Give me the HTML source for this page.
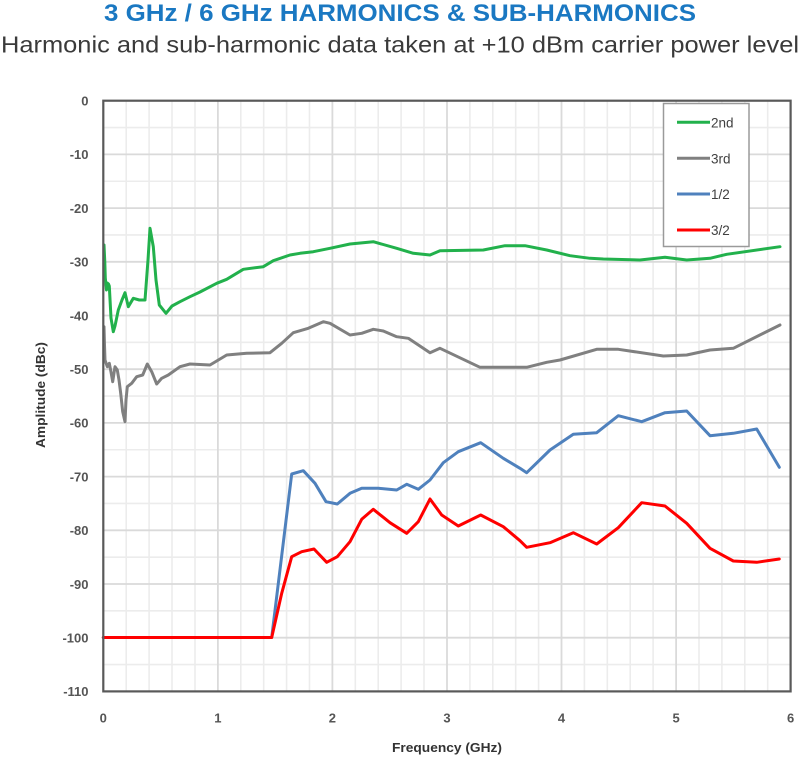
<!DOCTYPE html>
<html>
<head>
<meta charset="utf-8">
<style>
  html, body { margin: 0; padding: 0; background: #ffffff; }
  body { width: 800px; height: 765px; overflow: hidden; }
  svg { display: block; }
  text { font-family: "Liberation Sans", "DejaVu Sans", sans-serif; }
</style>
</head>
<body>
<svg width="800" height="765" viewBox="0 0 800 765" xmlns="http://www.w3.org/2000/svg">
  <rect x="0" y="0" width="800" height="765" fill="#ffffff"/>

  <!-- Titles -->
  <text x="104" y="21" font-size="24.5" font-weight="bold" fill="#1a78c2" textLength="592" lengthAdjust="spacingAndGlyphs">3 GHz / 6 GHz HARMONICS &amp; SUB-HARMONICS</text>
  <text x="1" y="52.5" font-size="23" fill="#3a3a3a" textLength="798" lengthAdjust="spacingAndGlyphs">Harmonic and sub-harmonic data taken at +10 dBm carrier power level</text>

  <!-- Minor grid -->
  <g stroke="#ececec" stroke-width="1.6" fill="none">
    <line x1="126.2" y1="100.7" x2="126.2" y2="691.4"/>
    <line x1="149.1" y1="100.7" x2="149.1" y2="691.4"/>
    <line x1="172.0" y1="100.7" x2="172.0" y2="691.4"/>
    <line x1="195.0" y1="100.7" x2="195.0" y2="691.4"/>
    <line x1="240.8" y1="100.7" x2="240.8" y2="691.4"/>
    <line x1="263.7" y1="100.7" x2="263.7" y2="691.4"/>
    <line x1="286.6" y1="100.7" x2="286.6" y2="691.4"/>
    <line x1="309.5" y1="100.7" x2="309.5" y2="691.4"/>
    <line x1="355.3" y1="100.7" x2="355.3" y2="691.4"/>
    <line x1="378.2" y1="100.7" x2="378.2" y2="691.4"/>
    <line x1="401.1" y1="100.7" x2="401.1" y2="691.4"/>
    <line x1="424.0" y1="100.7" x2="424.0" y2="691.4"/>
    <line x1="469.9" y1="100.7" x2="469.9" y2="691.4"/>
    <line x1="492.8" y1="100.7" x2="492.8" y2="691.4"/>
    <line x1="515.7" y1="100.7" x2="515.7" y2="691.4"/>
    <line x1="538.6" y1="100.7" x2="538.6" y2="691.4"/>
    <line x1="584.4" y1="100.7" x2="584.4" y2="691.4"/>
    <line x1="607.3" y1="100.7" x2="607.3" y2="691.4"/>
    <line x1="630.2" y1="100.7" x2="630.2" y2="691.4"/>
    <line x1="653.1" y1="100.7" x2="653.1" y2="691.4"/>
    <line x1="699.0" y1="100.7" x2="699.0" y2="691.4"/>
    <line x1="721.9" y1="100.7" x2="721.9" y2="691.4"/>
    <line x1="744.8" y1="100.7" x2="744.8" y2="691.4"/>
    <line x1="767.7" y1="100.7" x2="767.7" y2="691.4"/>

    <line x1="103.3" y1="127.55" x2="790.6" y2="127.55"/>
    <line x1="103.3" y1="181.25" x2="790.6" y2="181.25"/>
    <line x1="103.3" y1="234.95" x2="790.6" y2="234.95"/>
    <line x1="103.3" y1="288.65" x2="790.6" y2="288.65"/>
    <line x1="103.3" y1="342.35" x2="790.6" y2="342.35"/>
    <line x1="103.3" y1="396.05" x2="790.6" y2="396.05"/>
    <line x1="103.3" y1="449.75" x2="790.6" y2="449.75"/>
    <line x1="103.3" y1="503.45" x2="790.6" y2="503.45"/>
    <line x1="103.3" y1="557.15" x2="790.6" y2="557.15"/>
    <line x1="103.3" y1="610.85" x2="790.6" y2="610.85"/>
    <line x1="103.3" y1="664.55" x2="790.6" y2="664.55"/>
  </g>
  <!-- Major grid -->
  <g stroke="#dadada" stroke-width="1.8" fill="none">
    <line x1="217.9" y1="100.7" x2="217.9" y2="691.4"/>
    <line x1="332.4" y1="100.7" x2="332.4" y2="691.4"/>
    <line x1="447.0" y1="100.7" x2="447.0" y2="691.4"/>
    <line x1="561.5" y1="100.7" x2="561.5" y2="691.4"/>
    <line x1="676.1" y1="100.7" x2="676.1" y2="691.4"/>

    <line x1="103.3" y1="154.4" x2="790.6" y2="154.4"/>
    <line x1="103.3" y1="208.1" x2="790.6" y2="208.1"/>
    <line x1="103.3" y1="261.8" x2="790.6" y2="261.8"/>
    <line x1="103.3" y1="315.5" x2="790.6" y2="315.5"/>
    <line x1="103.3" y1="369.2" x2="790.6" y2="369.2"/>
    <line x1="103.3" y1="422.9" x2="790.6" y2="422.9"/>
    <line x1="103.3" y1="476.6" x2="790.6" y2="476.6"/>
    <line x1="103.3" y1="530.3" x2="790.6" y2="530.3"/>
    <line x1="103.3" y1="584.0" x2="790.6" y2="584.0"/>
    <line x1="103.3" y1="637.7" x2="790.6" y2="637.7"/>
  </g>

  <!-- Series -->
  <g fill="none" stroke-width="3" stroke-linejoin="round" stroke-linecap="round">
    <polyline stroke="#4f81bd" points="103.3,637.5 271.7,637.5 291.7,474 303.3,470.7 315,483.3 326,501.7 337.3,504 350,493.3 361.7,488.3 378.3,488.3 396.7,490 406.7,484.3 418.3,489.3 430,480 443.3,462.7 458.3,451.7 480.7,442.7 503.3,458.3 520,468.3 526.7,472.7 550,450 573.3,434.3 596.7,432.7 618.3,415.7 641.7,421.7 665,412.7 686.7,411 710,435.7 733.3,433.3 756.7,429 779.3,467.3"/>
    <polyline stroke="#ff0000" points="103.3,637.5 271.7,637.5 281.7,593.3 291.7,556.7 301.7,551.7 314,549 326.7,562.3 337.3,556.7 350,541.7 361.7,519.3 373.3,509.3 390,522.7 406.7,533.3 418.3,521.7 430,499 441.7,515 458.3,526 480.7,515 503.3,526.7 520,540.7 526.7,547.3 550,542.7 573.3,532.7 596.7,544 618.3,527.7 641.7,502.7 665,506 686.7,523.3 710,548.3 733.3,561 756.7,562.3 779.3,559"/>
    <polyline stroke="#808080" points="104,326.7 104.5,345 105,360 107.3,366.7 109.3,363.3 111,372 112.7,381.7 115,366.7 117.3,370 119,380 120.7,393.3 122.7,411.7 125,421.7 126,400 127.3,386.7 131.7,383.3 136.7,376.7 142.7,375 147.3,364 151.7,371.7 156.7,384 161.7,378.3 168.3,375 180,366.7 190,364 210,365 226.7,355 246.7,353.3 270,352.7 281.7,343.3 293.3,332.7 308.3,328.3 323.3,321.7 330,323.3 350,335 361.7,333.3 373.3,329.3 383.3,331 396.7,336.7 408.3,338.3 430,352.7 440,348.3 480,367.3 526.7,367.3 546.7,362.3 560,360 596.7,349.3 618.3,349.3 663.3,356 686.7,355 710,350 733.3,348.3 780,325"/>
    <polyline stroke="#22b14c" points="104,245 104.8,262 105.3,278 106.5,290 107.3,283 108.5,284 109.3,286 111,318 113.3,331.7 115,326 118.3,310 122,300 125,292.7 128.3,306.7 133.3,298.3 139.3,300 145,300 148,260 150,228.3 153.3,246.7 156,280 159.3,305 166,313.3 172,306 180,301.7 190,296.7 200,292 216.7,283.3 226.7,279.3 243.3,269.3 263.3,266.7 273.3,260.7 290,255 300,253.3 313.3,251.7 330,248.3 350,244 373.3,241.7 396.7,248.3 413.3,253.3 430,255 440,250.7 483.3,250 505,245.7 525,245.7 546.7,250 570,255.7 590,258.3 603.3,259 640,260 665,257.3 686.7,260 710,258.3 726.7,254.3 780,246.7"/>
  </g>

  <!-- Plot frame -->
  <rect x="103.3" y="100.7" width="687.3" height="590.7" fill="none" stroke="#595959" stroke-width="2.2"/>

  <!-- Legend -->
  <rect x="663.5" y="103.5" width="85.5" height="143" fill="#ffffff" stroke="#9a9a9a" stroke-width="1.5"/>
  <g stroke-width="3" stroke-linecap="butt">
    <line x1="677" y1="122.3" x2="710" y2="122.3" stroke="#22b14c"/>
    <line x1="677" y1="158.3" x2="710" y2="158.3" stroke="#808080"/>
    <line x1="677" y1="194" x2="710" y2="194" stroke="#4f81bd"/>
    <line x1="677" y1="230" x2="710" y2="230" stroke="#ff0000"/>
  </g>
  <g font-size="13.5" fill="#404040">
    <text x="711" y="127.3">2nd</text>
    <text x="711" y="163.3">3rd</text>
    <text x="711" y="199">1/2</text>
    <text x="711" y="235">3/2</text>
  </g>

  <!-- Y tick labels -->
  <g font-size="13" font-weight="bold" fill="#555555" text-anchor="end">
    <text x="88.5" y="105.5">0</text>
    <text x="88.5" y="159.2">-10</text>
    <text x="88.5" y="212.9">-20</text>
    <text x="88.5" y="266.6">-30</text>
    <text x="88.5" y="320.3">-40</text>
    <text x="88.5" y="374">-50</text>
    <text x="88.5" y="427.7">-60</text>
    <text x="88.5" y="481.4">-70</text>
    <text x="88.5" y="535.1">-80</text>
    <text x="88.5" y="588.8">-90</text>
    <text x="88.5" y="642.5">-100</text>
    <text x="88.5" y="696.2">-110</text>
  </g>

  <!-- X tick labels -->
  <g font-size="13" font-weight="bold" fill="#555555" text-anchor="middle">
    <text x="103.3" y="722.5">0</text>
    <text x="217.9" y="722.5">1</text>
    <text x="332.4" y="722.5">2</text>
    <text x="447.0" y="722.5">3</text>
    <text x="561.5" y="722.5">4</text>
    <text x="676.1" y="722.5">5</text>
    <text x="790.6" y="722.5">6</text>
  </g>

  <!-- Axis titles -->
  <text x="392" y="752" font-size="13" font-weight="bold" fill="#333333" textLength="110" lengthAdjust="spacingAndGlyphs">Frequency (GHz)</text>
  <text transform="translate(45,448) rotate(-90)" x="0" y="0" font-size="13" font-weight="bold" fill="#333333" textLength="106" lengthAdjust="spacingAndGlyphs">Amplitude (dBc)</text>
</svg>
</body>
</html>
